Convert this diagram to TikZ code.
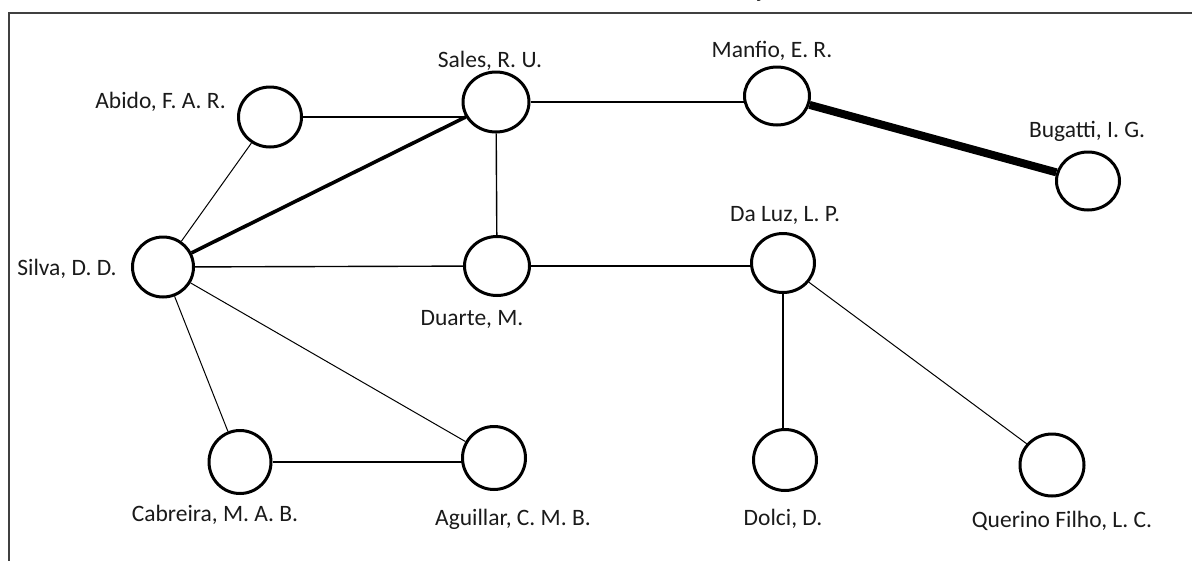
\documentclass[tikz,border=0pt]{standalone}
\usepackage{fontspec}
\setmainfont{Carlito}
\usetikzlibrary{shapes.geometric,backgrounds}
\definecolor{framegray}{HTML}{404040}
\definecolor{labelc}{HTML}{1A1A1A}
\tikzset{
  person/.style={ellipse, draw=black, line width=3pt, fill=white, inner sep=0pt,
                 minimum width=63pt, minimum height=60pt},
  lbl/.style={font=\fontsize{23.5}{27}\selectfont, text=labelc, inner sep=0pt, anchor=base},
  thin/.style={line width=1pt},
  med/.style={line width=1.4pt},
  bold/.style={line width=3.6pt},
  heavy/.style={line width=8pt},
}
\begin{document}
\begin{tikzpicture}[x=1pt,y=-1pt]
\useasboundingbox (0,0) rectangle (1192,560);
% frame (open to the right and bottom)
\draw[framegray, line width=2pt] (9,561) -- (9,13) -- (1193,13);
\node[lbl] (cut) at (758,-3) {ç};

% people
\node[person] (abido)    at (270,117) {};
\node[person, minimum width=66pt] (sales) at (496,102) {};
\node[person, minimum width=65pt, minimum height=58pt] (manfio) at (777,96) {};
\node[person, minimum height=58pt] (bugatti) at (1088,181) {};
\node[person, minimum width=61pt] (silva) at (163,267) {};
\node[person, minimum width=65pt, minimum height=59pt] (duarte) at (497,266) {};
\node[person, minimum height=59pt] (daluz) at (783,263) {};
\node[person, minimum width=62pt, minimum height=63pt] (cabreira) at (240,462) {};
\node[person, minimum height=63pt] (aguillar) at (494,458) {};
\node[person, minimum height=61pt] (dolci) at (785,460) {};
\node[person, minimum width=64pt, minimum height=62pt] (querino) at (1052,465) {};

% connections (behind the white-filled circles)
\begin{scope}[on background layer]
\draw[med]   (abido) -- (abido -| sales);
\draw[thin]  (silva) -- (abido);
\draw[bold]  (silva) -- (sales);
\draw[med]   (sales) -- (duarte);
\draw[med]   (sales) -- (sales -| manfio);
\draw[heavy] (manfio) -- (bugatti);
\draw[med]   (silva) -- (duarte);
\draw[med]   (duarte) -- (duarte -| daluz);
\draw[med]   (daluz) -- (daluz |- dolci);
\draw[thin]  (daluz) -- (querino.140);
\draw[thin]  (silva) -- (cabreira);
\draw[thin]  (silva) -- (aguillar);
\draw[line width=2pt] (cabreira) -- (cabreira -| aguillar);
\end{scope}

% labels (positioned by baseline)
\node[lbl] (lsales)    at (490,67)  {Sales, R. U.};
\node[lbl] (lmanfio)   at (772,57)  {Manfio, E. R.};
\node[lbl, anchor=base east] (labido) at (226,108) {Abido, F. A. R.};
\node[lbl] (lbugatti)  at (1087,137) {Bugatti, I. G.};
\node[lbl] (ldaluz)    at (785,221) {Da Luz, L. P.};
\node[lbl] (lsilva)    at (67,275)  {Silva, D. D.};
\node[lbl] (lduarte)   at (472,325) {Duarte, M.};
\node[lbl] (lcabreira) at (215,521) {Cabreira, M. A. B.};
\node[lbl] (laguillar) at (513,525) {Aguillar, C. M. B.};
\node[lbl] (ldolci)    at (783,525) {Dolci, D.};
\node[lbl] (lquerino)  at (1062,527) {Querino Filho, L. C.};
\end{tikzpicture}
\end{document}
